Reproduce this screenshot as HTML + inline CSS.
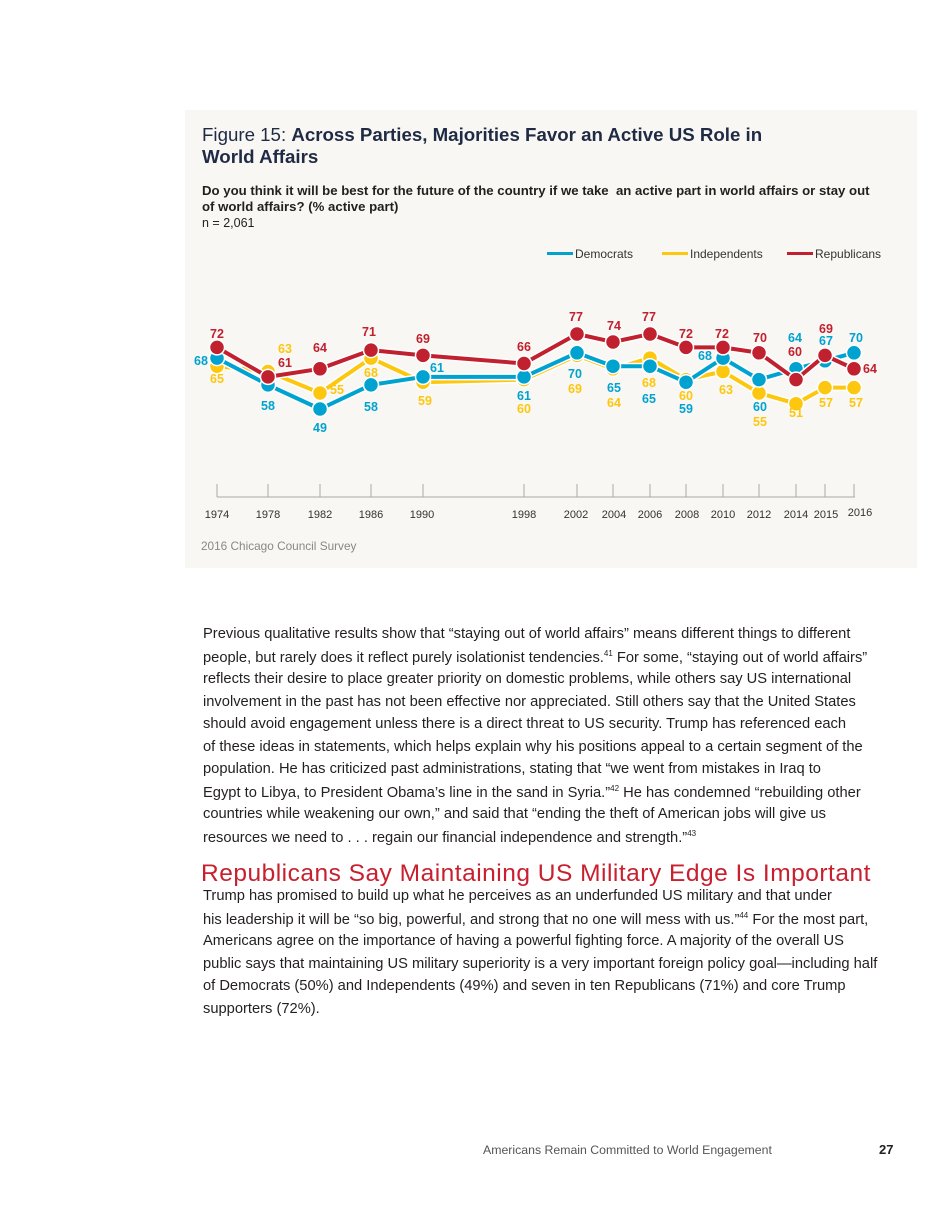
<!DOCTYPE html>
<html><head><meta charset="utf-8"><style>
body{margin:0;width:950px;height:1230px;background:#fff;position:relative;font-family:"Liberation Sans",sans-serif;overflow:hidden}
.panel{position:absolute;left:185px;top:110px;width:732px;height:458px;background:#f9f7f3}
.t{position:absolute;white-space:nowrap}
.body div{position:absolute;left:203px;white-space:nowrap;font-size:14.7px;color:#231f20}
</style></head><body>
<div class="panel"></div>
<div class="t" style="left:202px;top:124px;font-size:18.7px;color:#1f2a44;line-height:22px">Figure 15: <b>Across Parties, Majorities Favor an Active US Role in</b><br><b>World Affairs</b></div>
<div class="t" style="left:202px;top:183px;font-size:13.2px;font-weight:bold;color:#231f20;line-height:16px">Do you think it will be best for the future of the country if we take&nbsp; an active part in world affairs or stay out<br>of world affairs? (% active part)</div>
<div class="t" style="left:202px;top:216px;font-size:12.5px;color:#231f20">n = 2,061</div>
<svg style="position:absolute;left:0;top:0" width="950" height="600" font-family="Liberation Sans, sans-serif">
<g font-size="12" fill="#333">
<rect x="547" y="252" width="26" height="3" fill="#00a3d0"/><text x="575" y="258">Democrats</text>
<rect x="662" y="252" width="26" height="3" fill="#fcc70e"/><text x="690" y="258">Independents</text>
<rect x="787" y="252" width="26" height="3" fill="#c1202f"/><text x="815" y="258">Republicans</text>
</g>
<g stroke="#aaa" stroke-width="1" fill="none">
<path d="M217,497H855"/>
<path d="M217,484V497M268,484V497M320,484V497M371,484V497M423,484V497M524,484V497M577,484V497M613,484V497M650,484V497M686,484V497M723,484V497M759,484V497M796,484V497M825,484V497M854,484V497"/>
</g>
<g font-size="11" fill="#333" text-anchor="middle">
<text x="217" y="518">1974</text><text x="268" y="518">1978</text><text x="320" y="518">1982</text><text x="371" y="518">1986</text><text x="422" y="518">1990</text><text x="524" y="518">1998</text><text x="576" y="518">2002</text><text x="614" y="518">2004</text><text x="650" y="518">2006</text><text x="687" y="518">2008</text><text x="723" y="518">2010</text><text x="759" y="518">2012</text><text x="796" y="518">2014</text><text x="826" y="518">2015</text><text x="860" y="516">2016</text>
</g>
<text x="201" y="550" font-size="11.8" fill="#888">2016 Chicago Council Survey</text>
<g id="series"></g>
</svg>
<div class="body">
<div style="top:626px">Previous qualitative results show that “staying out of world affairs” means different things to different</div>
<div style="top:648.5px">people, but rarely does it reflect purely isolationist tendencies.<sup style="font-size:8px">41</sup> For some, “staying out of world affairs”</div>
<div style="top:671px">reflects their desire to place greater priority on domestic problems, while others say US international</div>
<div style="top:693.5px">involvement in the past has not been effective nor appreciated. Still others say that the United States</div>
<div style="top:716px">should avoid engagement unless there is a direct threat to US security. Trump has referenced each</div>
<div style="top:738.5px">of these ideas in statements, which helps explain why his positions appeal to a certain segment of the</div>
<div style="top:761px">population. He has criticized past administrations, stating that “we went from mistakes in Iraq to</div>
<div style="top:783.5px">Egypt to Libya, to President Obama’s line in the sand in Syria.”<sup style="font-size:8px">42</sup> He has condemned “rebuilding other</div>
<div style="top:806px">countries while weakening our own,” and said that “ending the theft of American jobs will give us</div>
<div style="top:828.5px">resources we need to . . . regain our financial independence and strength.”<sup style="font-size:8px">43</sup></div>
<div style="top:860px;left:201px;font-size:24.5px;letter-spacing:0.5px;color:#c8202f">Republicans Say Maintaining US Military Edge Is Important</div>
<div style="top:888px">Trump has promised to build up what he perceives as an underfunded US military and that under</div>
<div style="top:910.5px">his leadership it will be “so big, powerful, and strong that no one will mess with us.”<sup style="font-size:8px">44</sup> For the most part,</div>
<div style="top:933px">Americans agree on the importance of having a powerful fighting force. A majority of the overall US</div>
<div style="top:955.5px">public says that maintaining US military superiority is a very important foreign policy goal—including half</div>
<div style="top:978px">of Democrats (50%) and Independents (49%) and seven in ten Republicans (71%) and core Trump</div>
<div style="top:1000.5px">supporters (72%).</div>
</div>
<div class="t" style="left:483px;top:1143px;font-size:12.3px;color:#555">Americans Remain Committed to World Engagement</div>
<div class="t" style="left:879px;top:1142px;font-size:13px;font-weight:bold;color:#231f20">27</div>
<script>
var X=[217,268,320,371,423,524,577,613,650,686,723,759,796,825,854];
var D=[68,58,49,58,61,61,70,65,65,59,68,60,64,67,70];
var I=[65,63,55,68,59,60,69,64,68,60,63,55,51,57,57];
var R=[72,61,64,71,69,66,77,74,77,72,72,70,60,69,64];
function y(v){return 334+(77-v)*2.68;}
var s='';
function ser(d,c){var p=d.map(function(v,i){return (i?'L':'M')+X[i]+','+y(v).toFixed(1)}).join('');
s+='<path d="'+p+'" stroke="#fff" stroke-width="7" fill="none"/><path d="'+p+'" stroke="'+c+'" stroke-width="4" fill="none"/>';
d.forEach(function(v,i){s+='<circle cx="'+X[i]+'" cy="'+y(v).toFixed(1)+'" r="7.5" fill="'+c+'" stroke="#fff" stroke-width="1.5"/>';});}
ser(I,'#fcc70e');ser(D,'#00a3d0');ser(R,'#c1202f');
var L=[['#c1202f',[[72,217,338],[61,285,367],[64,320,352],[71,369,336],[69,423,343],[66,524,351],[77,576,321],[74,614,330],[77,649,321],[72,686,338],[72,722,338],[70,760,342],[60,795,356],[69,826,333],[64,870,373]]],
['#00a3d0',[[68,201,365],[58,268,410],[49,320,432],[58,371,411],[61,437,372],[61,524,400],[70,575,378],[65,614,392],[65,649,403],[59,686,413],[68,705,360],[60,760,411],[64,795,342],[67,826,345],[70,856,342]]],
['#fcc70e',[[65,217,383],[63,285,353],[55,337,394],[68,371,377],[59,425,405],[60,524,413],[69,575,393],[64,614,407],[68,649,387],[60,686,400],[63,726,394],[55,760,426],[51,796,417],[57,826,407],[57,856,407]]]];
L.forEach(function(g){g[1].forEach(function(a){s+='<text x="'+a[1]+'" y="'+a[2]+'" fill="'+g[0]+'" font-size="12.5" font-weight="bold" text-anchor="middle">'+a[0]+'</text>';});});
document.getElementById('series').innerHTML=s;
</script>
</body></html>
